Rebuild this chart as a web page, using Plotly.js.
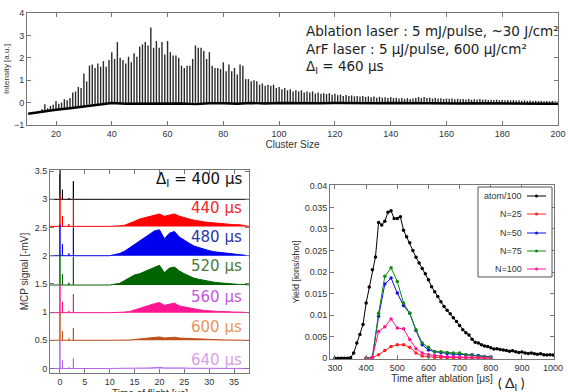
<!DOCTYPE html>
<html><head><meta charset="utf-8">
<script src="https://cdn.plot.ly/plotly-3.0.1.min.js"></script>
<style>html,body{margin:0;padding:0;background:#fff}#chart{width:568px;height:392px}</style>
</head><body><div id="chart"></div>
<script>
// ---------- Top panel: mass spectrum ----------
const clusterSizes = [12,13,14,15,16,17,18,19,20,21,22,23,24,25,26,27,28,29,30,31,32,33,34,35,36,37,38,39,40,41,42,43,44,45,46,47,48,49,50,51,52,53,54,55,56,57,58,59,60,61,62,63,64,65,66,67,68,69,70,71,72,73,74,75,76,77,78,79,80,81,82,83,84,85,86,87,88,89,90,91,92,93,94,95,96,97,98,99,100,101,102,103,104,105,106,107,108,109,110,111,112,113,114,115,116,117,118,119,120,121,122,123,124,125,126,127,128,129,130,131,132,133,134,135,136,137,138,139,140,141,142,143,144,145,146,147,148,149,150,151,152,153,154,155,156,157,158,159,160,161,162,163,164,165,166,167,168,169,170,171,172,173,174,175,176,177,178,179,180,181,182,183,184,185,186,187,188,189,190,191,192,193,194,195,196,197,198,199,200];
const peakIntensity = [
 -0.45,-0.4,-0.38,-0.3,-0.07,-0.25,-0.15,-0.1,0.07,-0.05,
 0.0,0.15,0.1,0.2,0.45,0.5,0.7,0.65,1.3,0.95,
 1.65,1.7,1.55,1.75,1.6,1.85,1.6,1.9,2.25,1.95,
 2.7,2.0,1.9,1.75,2.05,1.8,2.2,2.05,2.5,2.6,
 2.7,2.55,3.35,2.45,2.75,2.45,2.7,2.15,2.75,2.25,
 2.1,2.1,2.0,1.65,1.55,1.65,1.65,1.95,2.55,2.45,
 2.45,2.3,1.95,2.25,1.65,1.55,1.55,1.5,1.8,1.4,
 1.7,1.4,1.55,1.25,1.7,1.65,1.05,1.05,0.95,1.0,
 0.95,0.8,0.85,0.75,0.8,0.75,0.8,0.65,0.7,0.6,
 0.65,0.55,0.6,0.5,0.55,0.5,0.55,0.45,0.5,0.45,
 0.5,0.4,0.45,0.4,0.42,0.38,0.42,0.35,0.4,0.33,
 0.36,0.3,0.34,0.3,0.32,0.28,0.3,0.27,0.3,0.25,
 0.28,0.24,0.27,0.22,0.26,0.22,0.24,0.2,0.25,0.2,
 0.22,0.18,0.2,0.17,0.2,0.16,0.18,0.2,0.25,0.2,
 0.25,0.2,0.22,0.18,0.2,0.17,0.19,0.16,0.18,0.17,
 0.18,0.15,0.17,0.15,0.16,0.14,0.16,0.13,0.15,0.14,
 0.16,0.13,0.14,0.12,0.13,0.12,0.13,0.11,0.13,0.1,
 0.12,0.1,0.11,0.09,0.1,0.08,0.1,0.08,0.09,0.07,
 0.08,0.07,0.08,0.06,0.07,0.06,0.07,0.06,0.05];
const baselineSize = [10,15,20,25,30,35,40,45,50,55,60,65,70,75,80,85,90,95,100,105,110,115,120,125,130,135,140,145,150,155,160,165,170,175,180,185,190,195,200];
const baselineIntensity = [-0.5,-0.4,-0.32,-0.25,-0.18,-0.09,-0.02,-0.05,-0.05,-0.03,-0.06,-0.04,-0.07,-0.03,-0.03,-0.05,-0.02,-0.04,-0.02,-0.03,-0.01,-0.03,-0.02,-0.03,-0.02,-0.03,-0.02,-0.03,-0.02,-0.03,-0.03,-0.04,-0.03,-0.04,-0.04,-0.05,-0.04,-0.05,-0.05];
const spectrumNotes = ['Ablation laser : 5 mJ/pulse, ~30 J/cm²', 'ArF laser : 5 μJ/pulse, 600 μJ/cm²', 'Δ<sub>I</sub> = 460 μs'];

// ---------- Bottom-left: TOF spectra ----------
const tofDelays = ['400','440','480','520','560','600','640'];
const tofOffsets = [3.0,2.52,2.0,1.48,0.99,0.5,0.0];
const tofColors = ['#000000','#ff0000','#0000ee','#006400','#ff1493','#c0501a','#b466f0'];
const tofLabelColors = ['#111111','#ee2a2a','#2a36a8','#4a7a3a','#c855dd','#e8955a','#d9a0e6'];
const spikeTimes = [0,0.5,1.8,2.7];
const spikeHeights = [
 [0.6,0.17,0.02,0.32],
 [0.55,0.18,0.04,0.5],
 [0.55,0.2,0.04,0.5],
 [0.55,0.19,0.04,0.5],
 [0.5,0.19,0.03,0.33],
 [0.5,0.16,0.03,0.22],
 [0.5,0.14,0.02,0.18]];
const tofTime = [10,11,12,13,14,15,16,17,18,19,20,21,22,23,24,25,26,27,28,29,30,31,32,33,34,35,36,37];
const tofEnvelope = [
 [0,0,0,0,0,0,0,0,0,0,0,0,0,0,0,0,0,0,0,0,0,0,0,0,0,0,0,0],
 [0,0,0.01,0.02,0.05,0.09,0.13,0.15,0.18,0.2,0.22,0.18,0.2,0.22,0.18,0.15,0.13,0.11,0.09,0.08,0.07,0.06,0.05,0.05,0.04,0.03,0.03,0.02],
 [0,0.02,0.04,0.08,0.14,0.2,0.27,0.32,0.38,0.44,0.46,0.3,0.4,0.43,0.33,0.27,0.22,0.17,0.14,0.11,0.09,0.07,0.06,0.05,0.04,0.03,0.02,0.02],
 [0,0.01,0.03,0.08,0.13,0.18,0.2,0.24,0.28,0.32,0.35,0.22,0.3,0.32,0.25,0.2,0.16,0.12,0.1,0.08,0.06,0.05,0.04,0.03,0.02,0.02,0.01,0.01],
 [0,0,0,0.01,0.02,0.05,0.08,0.1,0.13,0.16,0.18,0.13,0.15,0.17,0.12,0.1,0.08,0.06,0.05,0.04,0.03,0.03,0.02,0.02,0.01,0.01,0.01,0.01],
 [0,0,0,0,0.005,0.015,0.025,0.03,0.04,0.05,0.06,0.04,0.05,0.055,0.04,0.035,0.03,0.025,0.02,0.015,0.01,0.01,0.01,0.005,0.005,0.005,0.005,0.005],
 [0,0,0,0,0,0,0.005,0.005,0.01,0.015,0.02,0.01,0.012,0.015,0.01,0.01,0.005,0.005,0.005,0.005,0,0,0,0,0,0,0,0]];

// ---------- Bottom-right: yield vs delay ----------
const atomDelay = [300,310,320,330,340,350,360,370,380,390,400,410,420,430,440,450,460,470,480,490,500,510,520,530,540,550,560,570,580,590,600,610,620,630,640,650,660,670,680,690,700,710,720,730,740,750,760,770,780,790,800,810,820,830,840,850,860,870,880,890,900,910,920,930,940,950,960,970,980,990,1000];
const atomYield = [0,0,0,0,0,0.0001,0.0012,0.0035,0.0055,0.0078,0.0128,0.0165,0.0205,0.0235,0.0315,0.0309,0.0318,0.0339,0.0342,0.0324,0.0324,0.0328,0.0297,0.0282,0.0268,0.025,0.0234,0.0221,0.0208,0.0196,0.0182,0.0166,0.0154,0.0143,0.0131,0.012,0.0111,0.0103,0.0094,0.0085,0.0076,0.0066,0.0059,0.0054,0.0044,0.0037,0.0035,0.0031,0.0028,0.0027,0.0024,0.0021,0.0022,0.002,0.0019,0.0018,0.0016,0.0017,0.0015,0.0013,0.0014,0.0012,0.0011,0.0012,0.001,0.0009,0.001,0.0008,0.0007,0.0008,0.0007];
const clusterDelay = [400,420,440,460,480,500,520,540,560,580,600,620,640,660,680,700,720,740,760,780,800];
const yieldN25 = [0,0.0001,0.0008,0.0018,0.0027,0.0031,0.0031,0.0025,0.0012,0.0005,0.0003,0.0002,0.0002,0.0001,0.0001,0.0001,0.0001,0.0001,0,0,0];
const yieldN50 = [0,0.0002,0.0097,0.0172,0.0186,0.0151,0.0122,0.0104,0.0064,0.0031,0.0019,0.0015,0.0013,0.0011,0.0009,0.0009,0.0008,0.0008,0.0006,0.0004,0.0003];
const yieldN75 = [0,0.0002,0.0104,0.019,0.021,0.0178,0.0128,0.0104,0.0066,0.0035,0.0025,0.0015,0.0015,0.0013,0.0012,0.0012,0.0008,0.0006,0.0004,0.0003,0.0002];
const yieldN100 = [0,0.0001,0.0062,0.0073,0.0091,0.007,0.0068,0.0043,0.0022,0.0012,0.0008,0.0006,0.0005,0.0003,0.0003,0.0002,0.0002,0.0002,0.0001,0.0001,0.0001];
const yieldNames = ['atom/100','N=25','N=50','N=75','N=100'];
const yieldColors = ['#000000','#ff2020','#1010ee','#118811','#ff1493'];

// ---------- build traces ----------
const traces = [];
const px = [], py = [];
clusterSizes.forEach((n, i) => {
  const bi = Math.min(baselineSize.length - 1, Math.max(0, Math.round((n - baselineSize[0]) / 5)));
  px.push(n, n, null);
  py.push(baselineIntensity[bi], peakIntensity[i], null);
});
traces.push({x: px, y: py, xaxis: 'x', yaxis: 'y', mode: 'lines', line: {color: '#2a2a2a', width: 1.4}, hoverinfo: 'skip', showlegend: false});
traces.push({x: baselineSize, y: baselineIntensity, xaxis: 'x', yaxis: 'y', mode: 'lines', line: {color: '#000', width: 2.4}, showlegend: false});

tofDelays.forEach((d, k) => {
  const b = tofOffsets[k];
  const xs = [-2], ys = [b];
  spikeTimes.forEach((t, j) => { xs.push(t, t, t); ys.push(b, b + spikeHeights[k][j], b); });
  tofTime.forEach((t, j) => { xs.push(t); ys.push(b + tofEnvelope[k][j]); });
  xs.push(38); ys.push(b);
  traces.push({x: xs, y: ys, xaxis: 'x2', yaxis: 'y2', mode: 'lines', fill: 'toself', fillcolor: tofColors[k],
    line: {color: tofColors[k], width: 1}, showlegend: false, name: d + ' μs'});
});

const yieldSeries = [[atomDelay, atomYield],[clusterDelay, yieldN25],[clusterDelay, yieldN50],[clusterDelay, yieldN75],[clusterDelay, yieldN100]];
yieldSeries.forEach((s, k) => {
  traces.push({x: s[0], y: s[1], xaxis: 'x3', yaxis: 'y3', mode: 'lines+markers', name: yieldNames[k],
    line: {color: yieldColors[k], width: 1}, marker: {color: yieldColors[k], size: 3.5}, showlegend: false});
});

// ---------- layout ----------
const W = 568, H = 392;
const pxX = v => v / W, pxY = v => 1 - v / H;
const tickFont = {family: 'Liberation Sans, Arial, sans-serif', size: 9, color: '#333'};
const axBase = {showline: true, linecolor: '#777', linewidth: 1, mirror: 'allticks', ticks: 'inside', ticklen: 4, tickcolor: '#777',
  showgrid: false, zeroline: false, tickfont: tickFont, automargin: false};

const annotations = [];
const shapes = [];
annotations.push({xref: 'paper', yref: 'paper', x: pxX(304), y: pxY(21), xanchor: 'left', yanchor: 'top', align: 'left',
  text: spectrumNotes.join('<br>'), showarrow: false, font: {family: 'DejaVu Sans, sans-serif', size: 13.5, color: '#222'}});
const labelY = [180, 208, 237, 266, 297, 327, 360];
tofDelays.forEach((d, k) => {
  annotations.push({xref: 'paper', yref: 'paper', x: pxX(244), y: pxY(labelY[k]), xanchor: 'right', yanchor: 'middle',
    text: (k === 0 ? 'Δ<sub>I</sub> = ' : '') + d + ' μs', showarrow: false,
    font: {family: 'DejaVu Sans, sans-serif', size: 15, color: tofLabelColors[k]}});
});
annotations.push({xref: 'paper', yref: 'paper', x: pxX(511), y: pxY(383), xanchor: 'center', yanchor: 'middle',
  text: '( Δ<sub>I</sub> )', showarrow: false, font: {family: 'Lato, Open Sans, sans-serif', size: 14, color: '#222'}});
annotations.push({xref: 'paper', yref: 'paper', x: pxX(150), y: pxY(386), xanchor: 'center', yanchor: 'top',
  text: 'Time of flight [μs]', showarrow: false, font: {family: 'Liberation Sans, Arial, sans-serif', size: 10, color: '#333'}});

shapes.push({type: 'rect', xref: 'paper', yref: 'paper', x0: pxX(478), x1: pxX(552), y0: pxY(277), y1: pxY(187), line: {color: '#555', width: 1}, fillcolor: '#fff'});
const legY = [196, 214, 233, 251, 269];
yieldNames.forEach((nm, k) => {
  annotations.push({xref: 'paper', yref: 'paper', x: pxX(524), y: pxY(legY[k]), xanchor: 'right', yanchor: 'middle',
    text: nm, showarrow: false, font: {family: 'Liberation Sans, Arial, sans-serif', size: 9, color: '#333'}});
  shapes.push({type: 'line', xref: 'paper', yref: 'paper', x0: pxX(527), x1: pxX(546), y0: pxY(legY[k]), y1: pxY(legY[k]), line: {color: yieldColors[k], width: 1}});
  shapes.push({type: 'circle', xref: 'paper', yref: 'paper', x0: pxX(535), x1: pxX(538), y0: pxY(legY[k] + 1.5), y1: pxY(legY[k] - 1.5), line: {color: yieldColors[k], width: 0}, fillcolor: yieldColors[k]});
});

const titleFont = s => ({family: 'Liberation Sans, Arial, sans-serif', size: s, color: '#333'});
const layout = {
  width: W, height: H, margin: {l: 0, r: 0, t: 0, b: 0}, paper_bgcolor: '#fff', plot_bgcolor: '#fff', showlegend: false,
  xaxis: Object.assign({}, axBase, {domain: [pxX(27), pxX(558)], anchor: 'y', range: [9.6, 200], tickvals: [20,40,60,80,100,120,140,160,180,200],
    title: {text: 'Cluster Size', font: titleFont(10), standoff: 1}}),
  yaxis: Object.assign({}, axBase, {domain: [pxY(125), pxY(13)], anchor: 'x', range: [-1, 4], dtick: 1,
    title: {text: 'Intensity [a.u.]', font: titleFont(8), standoff: 3}}),
  xaxis2: Object.assign({}, axBase, {domain: [pxX(50), pxX(249)], anchor: 'y2', range: [-2, 38], tick0: 0, dtick: 5}),
  yaxis2: Object.assign({}, axBase, {domain: [pxY(373), pxY(170)], anchor: 'x2', range: [-0.08, 3.52], tick0: 0, dtick: 0.5,
    title: {text: 'MCP signal [-mV]', font: titleFont(10), standoff: 4}}),
  xaxis3: Object.assign({}, axBase, {domain: [pxX(330), pxX(554)], anchor: 'y3', range: [284, 1003], tickvals: [300,400,500,600,700,800,900,1000],
    title: {text: 'Time after ablation [μs]', font: titleFont(10), standoff: 2}}),
  yaxis3: Object.assign({}, axBase, {domain: [pxY(359), pxY(185)], anchor: 'x3', range: [-0.0002, 0.0402], tick0: 0, dtick: 0.005,
    title: {text: 'Yield [ions/shot]', font: titleFont(9), standoff: 3}}),
  annotations: annotations, shapes: shapes
};
Plotly.newPlot('chart', traces, layout, {staticPlot: true, displayModeBar: false});
</script></body></html>
